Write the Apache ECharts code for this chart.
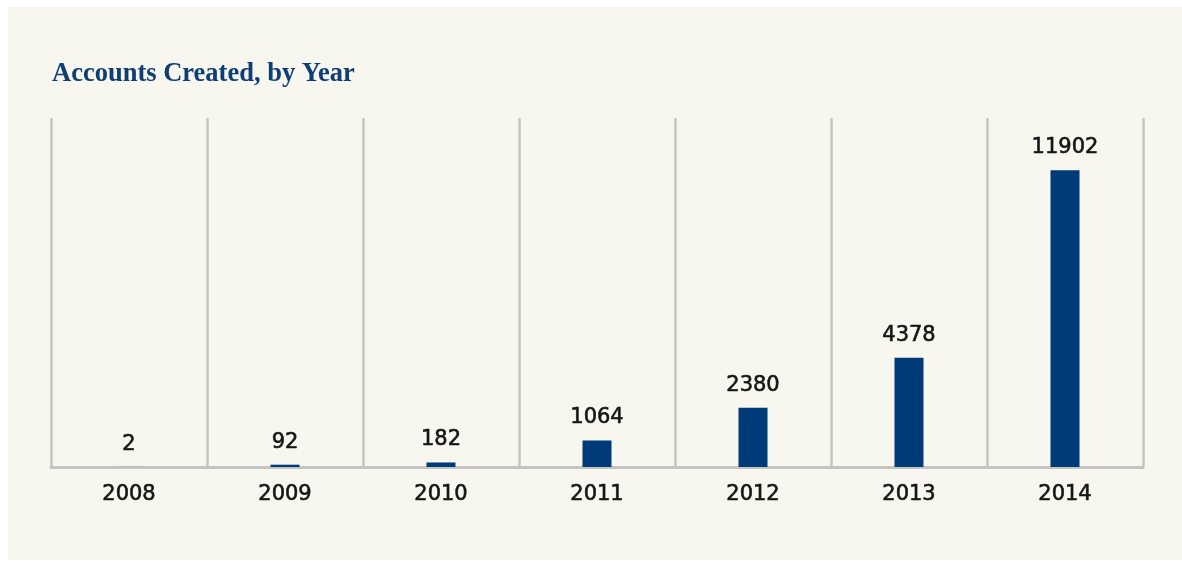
<!DOCTYPE html>
<html>
<head>
<meta charset="utf-8">
<script src="https://cdn.jsdelivr.net/npm/echarts@6/dist/echarts.min.js"></script>
<style>
html,body{margin:0;padding:0;background:#ffffff;}
#chart{width:1182px;height:562px;}
</style>
</head>
<body>
<div id="chart"></div>
<script>
const years = ['2008','2009','2010','2011','2012','2013','2014'];
const accounts = [2, 92, 182, 1064, 2380, 4378, 11902];
const titleText = 'Accounts Created, by Year';

const chart = echarts.init(document.getElementById('chart'), null, {renderer:'canvas'});
const labelFont = {
  color: '#151515', fontFamily: 'DejaVu Sans', fontSize: 21,
  textBorderColor: '#151515', textBorderWidth: 0.6
};
chart.setOption({
  backgroundColor: '#ffffff',
  animation: false,
  graphic: [{
    type: 'rect', z: -10, silent: true,
    shape: {x: 8, y: 7, width: 1174, height: 553},
    style: {fill: '#f7f6ef'}
  }],
  title: {
    text: titleText,
    left: 47, top: 56,
    textStyle: {fontFamily: 'Liberation Serif', fontWeight: 'bold', fontSize: 26.5, color: '#0f3e77'}
  },
  grid: {left: 51, right: 39, top: 118, bottom: 95, containLabel: false},
  xAxis: {
    type: 'category',
    data: years,
    boundaryGap: true,
    axisLine: {show: true, lineStyle: {color: '#c4c4c4', width: 3}},
    axisTick: {show: false},
    splitLine: {show: true, lineStyle: {color: '#c4c4c4', width: 2.5}},
    axisLabel: Object.assign({margin: 17}, labelFont)
  },
  yAxis: {
    type: 'value', min: 0, max: 14000,
    show: false,
    splitLine: {show: false}
  },
  series: [{
    type: 'bar',
    data: accounts,
    barWidth: 29,
    itemStyle: {color: '#003b79'},
    label: Object.assign({show: true, position: 'top', distance: 12}, labelFont)
  }]
});
</script>
</body>
</html>
